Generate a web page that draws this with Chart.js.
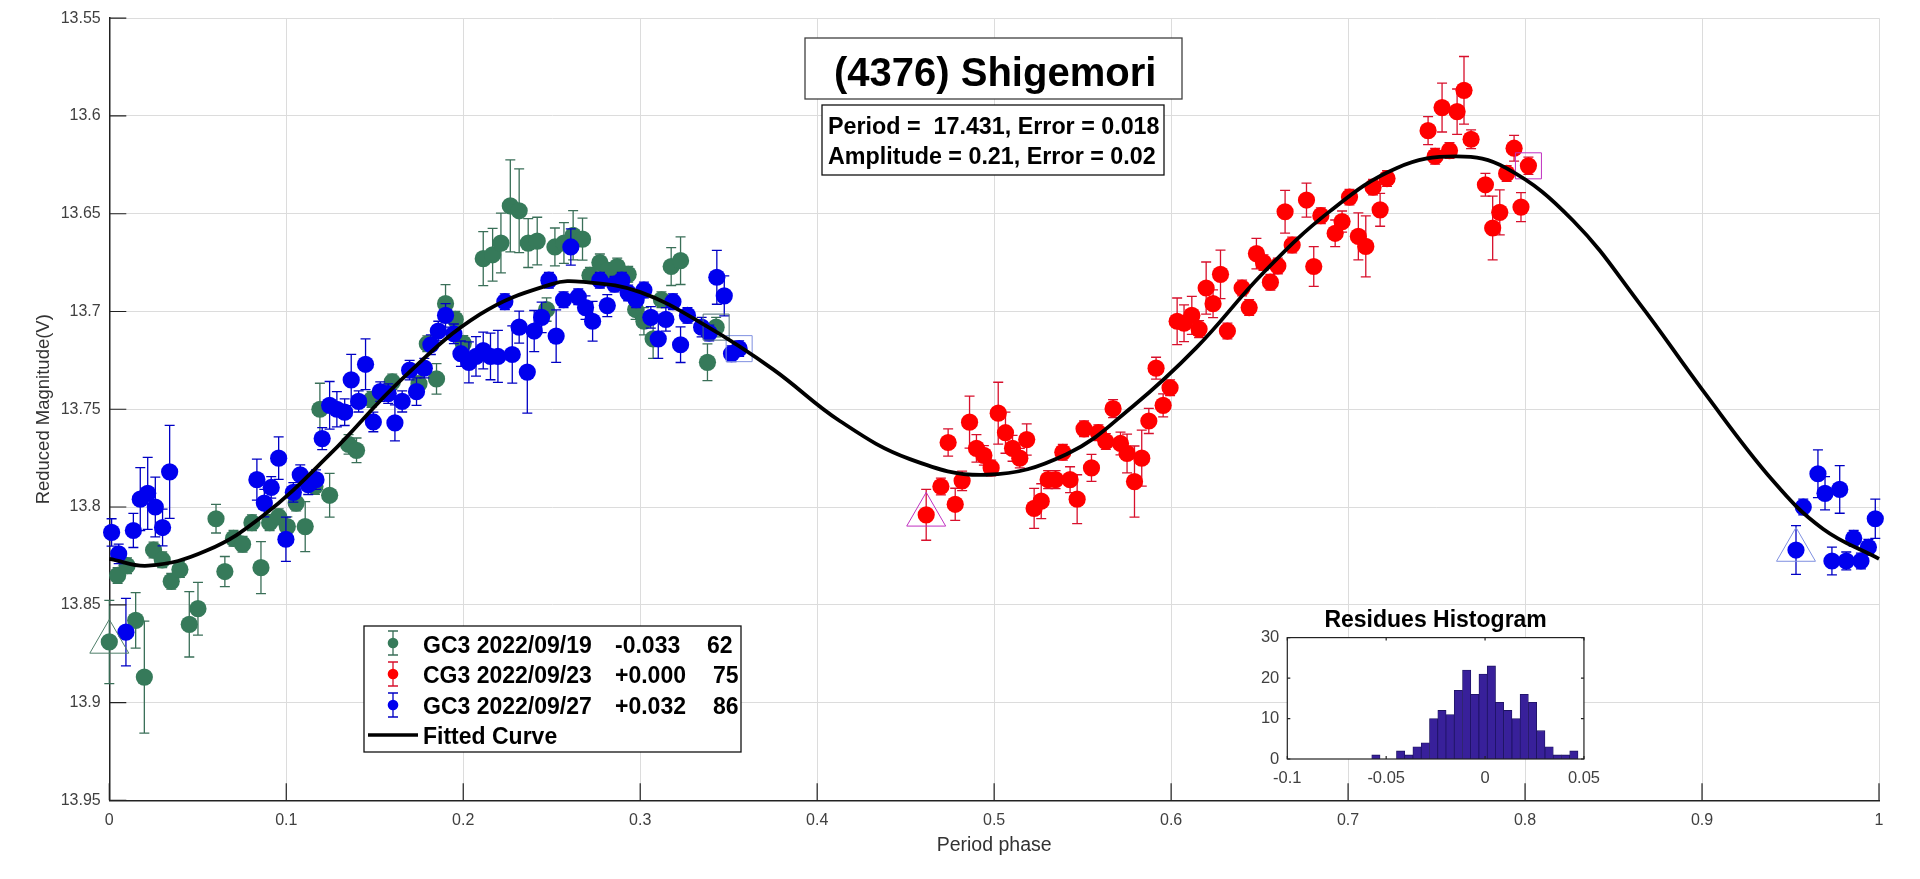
<!DOCTYPE html>
<html>
<head>
<meta charset="utf-8">
<title>(4376) Shigemori</title>
<script src="https://cdn.jsdelivr.net/npm/chart.js@4"></script>
<style>
  html, body { margin: 0; padding: 0; background: #fff; }
  #wrap { position: relative; width: 1920px; height: 879px; overflow: hidden; }
  #lightcurve { position: absolute; left: 0; top: 0; }
  #histogram { position: absolute; left: 1240px; top: 607px; }
</style>
</head>
<body>
<div id="wrap">
  <canvas id="lightcurve" width="1920" height="879"></canvas>
  <canvas id="histogram" width="370" height="190"></canvas>
</div>
<script>
// Session 2022/09/19
const greenPhase = [0, .0047, .01, .0149, .0198, .025, .0299, .035, .0399, .0452, .0501, .0603, .0653, .0702, .0753, .0806, .0857, .0906, .0957, .1006, .1056, .1107, .1162, .1245, .119, .1352, .1397, .1482, .1599, .175, .1849, .1797, .19, .1955, .2, .2113, .2166, .2213, .2266, .2316, .2367, .2418, .2518, .2569, .2621, .2674, .2716, .2772, .2819, .287, .2932, .2974, .3021, .3073, .312, .3175, .3228, .3429, .338, .2471];
const greenMag = [13.869, 13.835, 13.83, 13.858, 13.887, 13.822, 13.827, 13.838, 13.832, 13.86, 13.852, 13.806, 13.833, 13.816, 13.819, 13.808, 13.831, 13.808, 13.805, 13.81, 13.798, 13.81, 13.7895, 13.794, 13.75, 13.768, 13.771, 13.745, 13.736, 13.737, 13.7345, 13.7165, 13.696, 13.704, 13.7163, 13.673, 13.671, 13.665, 13.646, 13.6485, 13.665, 13.664, 13.667, 13.665, 13.661, 13.663, 13.6815, 13.675, 13.679, 13.677, 13.681, 13.699, 13.705, 13.714, 13.694, 13.677, 13.674, 13.708, 13.726, 13.699];
const greenErr = [.0213, .004, .004, .0142, .0286, .004, .004, .004, .004, .0167, .0135, .0073, .0077, .004, .004, .004, .0133, .004, .004, .005, .004, .0128, .004, .0112, .0133, .005, .0063, .004, .004, .004, .0078, .004, .0097, .004, .004, .0138, .0135, .0153, .0235, .0214, .0125, .0122, .0097, .0104, .0126, .0107, .004, .0044, .004, .0043, .004, .005, .007, .01, .004, .0097, .0122, .005, .0094, .006];

// Session 2022/09/23
const redPhase = [.4616, .4699, .474, .478, .4819, .4861, .49, .4942, .4983, .5023, .5064, .5104, .5145, .5184, .5226, .5266, .5305, .5347, .5388, .5429, .5469, .5508, .555, .5589, .5631, .5672, .5714, .5751, .5793, .5834, .5874, .5915, .5955, .5994, .6034, .6073, .6117, .6158, .6198, .6237, .6279, .6318, .6401, .6441, .6482, .6522, .6561, .6603, .6644, .6684, .6765, .6806, .6846, .6927, .6966, .7008, .7058, .71, .7141, .7181, .722, .7452, .7492, .7531, .7573, .7616, .7655, .7695, .7776, .7817, .7857, .7896, .7938, .7977, .8019];
const redMag = [13.804, 13.7895, 13.767, 13.7986, 13.7866, 13.7566, 13.77, 13.7736, 13.78, 13.752, 13.762, 13.77, 13.775, 13.7655, 13.8007, 13.797, 13.786, 13.786, 13.772, 13.786, 13.796, 13.76, 13.78, 13.762, 13.7665, 13.7497, 13.7675, 13.7726, 13.787, 13.775, 13.756, 13.729, 13.748, 13.739, 13.705, 13.706, 13.702, 13.709, 13.688, 13.696, 13.681, 13.71, 13.688, 13.698, 13.6704, 13.675, 13.685, 13.6767, 13.649, 13.666, 13.643, 13.677, 13.651, 13.66, 13.654, 13.6415, 13.6616, 13.6667, 13.6364, 13.648, 13.632, 13.6075, 13.6206, 13.5957, 13.6177, 13.5978, 13.5869, 13.6119, 13.6352, 13.6573, 13.6493, 13.6294, 13.6165, 13.6466, 13.6255];
const redErr = [.013, .0043, .007, .0082, .005, .0133, .007, .005, .004, .0158, .0105, .0066, .005, .008, .0102, .0089, .0046, .0046, .004, .0066, .0125, .004, .0069, .004, .004, .0046, .0058, .0099, .0182, .0143, .0064, .0056, .0059, .004, .0119, .0094, .0097, .0043, .0133, .0071, .0124, .004, .004, .004, .0078, .004, .004, .004, .0109, .004, .0087, .0102, .004, .0068, .0054, .004, .012, .0156, .004, .0084, .004, .0072, .004, .0125, .004, .0116, .0173, .0048, .0058, .0163, .0115, .004, .0066, .0074, .0044];

// Session 2022/09/27
const bluePhase = [.0013, .0053, .0094, .0136, .0175, .0217, .026, .0301, .0341, .0998, .0834, .0915, .0876, .0957, .104, .1079, .1124, .1168, .1203, .1245, .1286, .133, .1367, .1409, .1448, .1492, .1531, .1576, .1614, .1655, .1697, .1736, .178, .1817, .1859, .19, .1947, .1987, .2032, .2072, .2113, .2154, .2196, .2277, .2235, .2316, .2362, .2401, .2443, .2484, .2525, .2567, .2608, .265, .2691, .2731, .2772, .2814, .2855, .2896, .2932, .2977, .3021, .306, .3102, .3145, .3185, .3228, .3267, .3347, .339, .3433, .3475, .3516, .3559, .9531, .9572, .9655, .9695, .9778, .9734, .9815, .9857, .9898, .994, .9979];
const blueMag = [13.813, 13.824, 13.864, 13.812, 13.796, 13.793, 13.8, 13.8105, 13.782, 13.8165, 13.786, 13.79, 13.798, 13.775, 13.7925, 13.7835, 13.7886, 13.786, 13.765, 13.748, 13.75, 13.7515, 13.735, 13.746, 13.727, 13.7565, 13.741, 13.742, 13.757, 13.746, 13.73, 13.741, 13.729, 13.717, 13.71, 13.702, 13.7114, 13.7216, 13.726, 13.723, 13.72, 13.723, 13.723, 13.722, 13.695, 13.708, 13.731, 13.71, 13.703, 13.684, 13.7126, 13.694, 13.667, 13.6925, 13.698, 13.705, 13.684, 13.697, 13.686, 13.684, 13.6905, 13.694, 13.689, 13.703, 13.714, 13.704, 13.695, 13.717, 13.702, 13.708, 13.711, 13.6825, 13.692, 13.7216, 13.719, 13.822, 13.8, 13.783, 13.793, 13.791, 13.8276, 13.8276, 13.816, 13.8276, 13.8206, 13.806];
const blueErr = [.007, .005, .0173, .0087, .0161, .0184, .0153, .0094, .0238, .0113, .0105, .0055, .007, .0109, .005, .005, .005, .005, .0056, .0122, .009, .0068, .0131, .0054, .013, .005, .005, .005, .0092, .0054, .005, .007, .005, .005, .005, .006, .005, .0065, .0105, .0101, .0094, .0119, .0133, .0146, .004, .0082, .021, .0105, .0078, .004, .0134, .004, .0093, .004, .006, .0102, .004, .0056, .004, .004, .004, .004, .004, .0055, .01, .006, .004, .0091, .004, .005, .004, .0138, .0102, .004, .004, .0125, .004, .0122, .0085, .0122, .0071, .0046, .004, .004, .004, .01];

// Fitted curve
const curvePhase = [0, .022, .055, .087, .1247, .1652, .2094, .25, .2678, .3, .3375, .3751, .4128, .4524, .4957, .5409, .5786, .6143, .652, .6896, .7273, .7612, .7894, .8272, .8648, .9, .9401, .9684, 1];
const curveMag = [13.8265, 13.83, 13.8223, 13.8044, 13.773, 13.7347, 13.7015, 13.686, 13.6849, 13.6901, 13.7075, 13.7296, 13.756, 13.7755, 13.7835, 13.773, 13.7483, 13.7185, 13.6803, 13.6488, 13.6267, 13.6207, 13.6267, 13.6536, 13.6961, 13.7398, 13.7866, 13.8112, 13.8265];

// Residues histogram
const histCenters = [-.0552, -.051, -.0469, -.0427, -.0385, -.0344, -.0302, -.026, -.0218, -.0177, -.0135, -.0093, -.0052, -.001, .0032, .0073, .0115, .0157, .0198, .024, .0282, .0324, .0365, .0407, .0449];
const histCounts = [1, 0, 0, 2, 1, 3, 4, 10, 12, 11, 17, 22, 16, 21, 23, 14, 12, 10, 16, 14, 7, 3, 1, 1, 2];

const xTickLabels = ['0', '0.1', '0.2', '0.3', '0.4', '0.5', '0.6', '0.7', '0.8', '0.9', '1'];
const yTickLabels = ['13.55', '13.6', '13.65', '13.7', '13.75', '13.8', '13.85', '13.9', '13.95'];
const histXLabels = ['-0.1', '-0.05', '0', '0.05'];
const histYLabels = ['0', '10', '20', '30'];

const sessionNames = ['GC3 2022/09/19', 'CG3 2022/09/23', 'GC3 2022/09/27'];
const sessionOffsets = ['-0.033', '+0.000', '+0.032'];
const sessionCounts = ['62', '75', '86'];

const GREEN = '#367a5a', GREEN_BAR = '#3a6f58';
const RED = '#ff0000', RED_BAR = '#d8102c';
const BLUE = '#0000ee', BLUE_BAR = '#0000c4';
const FONT = '"Liberation Sans", Arial, sans-serif';

function toPoints(xs, ys) {
    return xs.map(function (x, i) { return { x: x, y: ys[i] }; });
}

function sessionSet(label, xs, ys, errs, color, barColor, order) {
    return {
        label: label,
        data: toPoints(xs, ys),
        errs: errs,
        barColor: barColor,
        backgroundColor: color,
        borderWidth: 0,
        pointRadius: 8.6,
        pointHoverRadius: 8.6,
        clip: false,
        order: order
    };
}

// triangle on the first point of a session, square on the last one
function boundMark(x, y, style, radius, color) {
    return {
        data: [{ x: x, y: y }],
        pointStyle: style,
        pointRadius: radius,
        backgroundColor: 'rgba(0,0,0,0)',
        borderColor: color,
        pointBorderWidth: 1,
        borderWidth: 1,
        clip: false,
        order: 1
    };
}

// error bars, drawn just under the markers of the same session
const errorBars = {
    id: 'errorBars',
    beforeDatasetDraw(chart, args) {
        const ds = chart.data.datasets[args.index];
        if (!ds.errs) return;
        const ctx = chart.ctx, xs = chart.scales.x, ys = chart.scales.y;
        ctx.save();
        ctx.strokeStyle = ds.barColor;
        ctx.lineWidth = 1.3;
        ds.data.forEach(function (p, i) {
            const px = xs.getPixelForValue(p.x);
            const top = ys.getPixelForValue(p.y - ds.errs[i]);
            const bot = ys.getPixelForValue(p.y + ds.errs[i]);
            ctx.beginPath();
            ctx.moveTo(px, top); ctx.lineTo(px, bot);
            ctx.moveTo(px - 5, top); ctx.lineTo(px + 5, top);
            ctx.moveTo(px - 5, bot); ctx.lineTo(px + 5, bot);
            ctx.stroke();
        });
        ctx.restore();
    }
};

// matlab style ticks, pointing inside the axes
const innerTicks = {
    id: 'innerTicks',
    afterDatasetsDraw(chart, args, opts) {
        const ctx = chart.ctx, xs = chart.scales.x, ys = chart.scales.y, a = chart.chartArea;
        ctx.save();
        ctx.strokeStyle = opts.color;
        ctx.lineWidth = 1.2;
        ctx.beginPath();
        xs.ticks.forEach(function (t) {
            const px = xs.getPixelForValue(t.value);
            ctx.moveTo(px, a.bottom); ctx.lineTo(px, a.bottom - opts.length);
        });
        ys.ticks.forEach(function (t) {
            const py = ys.getPixelForValue(t.value);
            ctx.moveTo(a.left, py); ctx.lineTo(a.left + opts.length, py);
        });
        ctx.stroke();
        ctx.restore();
    }
};

function box(ctx, x, y, w, h, color) {
    ctx.fillStyle = '#fff';
    ctx.fillRect(x, y, w, h);
    ctx.strokeStyle = color;
    ctx.lineWidth = 1.3;
    ctx.strokeRect(x, y, w, h);
}

// title box, period box and legend
const annotations = {
    id: 'annotations',
    afterDraw(chart) {
        const ctx = chart.ctx;
        ctx.save();
        box(ctx, 805, 38, 377, 61, '#404040');
        ctx.fillStyle = '#000';
        ctx.textBaseline = 'alphabetic';
        ctx.font = 'bold 40px ' + FONT;
        ctx.fillText('(4376) Shigemori', 834, 86);

        box(ctx, 822, 105, 342, 70, '#111');
        ctx.fillStyle = '#000';
        ctx.font = 'bold 23.3px ' + FONT;
        ctx.fillText('Period =  17.431, Error = 0.018', 828, 134);
        ctx.fillText('Amplitude = 0.21, Error = 0.02', 828, 164);

        box(ctx, 364, 626, 377, 126, '#111');
        const colors = [GREEN, RED, BLUE], bars = [GREEN_BAR, RED_BAR, BLUE_BAR];
        const rowY = [643, 674, 705], baseY = [653, 683, 714], countX = [707, 713, 713];
        ctx.font = 'bold 23px ' + FONT;
        sessionNames.forEach(function (name, i) {
            ctx.strokeStyle = bars[i];
            ctx.lineWidth = 1.3;
            ctx.beginPath();
            ctx.moveTo(393, rowY[i] - 12); ctx.lineTo(393, rowY[i] + 12);
            ctx.moveTo(388, rowY[i] - 12); ctx.lineTo(398, rowY[i] - 12);
            ctx.moveTo(388, rowY[i] + 12); ctx.lineTo(398, rowY[i] + 12);
            ctx.stroke();
            ctx.fillStyle = colors[i];
            ctx.beginPath();
            ctx.arc(393, rowY[i], 5.3, 0, Math.PI * 2);
            ctx.fill();
            ctx.fillStyle = '#000';
            ctx.fillText(name, 423, baseY[i]);
            ctx.fillText(sessionOffsets[i], 615, baseY[i]);
            ctx.fillText(sessionCounts[i], countX[i], baseY[i]);
        });
        ctx.strokeStyle = '#000';
        ctx.lineWidth = 3.6;
        ctx.beginPath();
        ctx.moveTo(368, 735); ctx.lineTo(418, 735);
        ctx.stroke();
        ctx.fillStyle = '#000';
        ctx.fillText('Fitted Curve', 423, 744);
        ctx.restore();
    }
};

Chart.defaults.font.family = FONT;

const lastGreen = greenPhase.indexOf(.3429);
const lastBlue = bluePhase.indexOf(.3559);

new Chart(document.getElementById('lightcurve'), {
    type: 'scatter',
    data: {
        datasets: [
            {
                label: 'Fitted Curve',
                data: toPoints(curvePhase, curveMag),
                showLine: true,
                borderColor: '#000',
                borderWidth: 3.8,
                pointRadius: 0,
                tension: 0.4,
                clip: false,
                order: 0
            },
            boundMark(greenPhase[0], greenMag[0], 'triangle', 22.5, '#4f7f6a'),
            boundMark(greenPhase[lastGreen], greenMag[lastGreen], 'rect', 18.4, '#4f6f78'),
            boundMark(redPhase[0], redMag[0], 'triangle', 22.5, '#c030c0'),
            boundMark(redPhase[redPhase.length - 1], redMag[redMag.length - 1], 'rect', 18.4, '#c030c0'),
            boundMark(bluePhase[75], blueMag[75], 'triangle', 22.5, '#7f90e0'),
            boundMark(bluePhase[lastBlue], blueMag[lastBlue], 'rect', 18.4, '#7f90e0'),
            sessionSet(sessionNames[2], bluePhase, blueMag, blueErr, BLUE, BLUE_BAR, 2),
            sessionSet(sessionNames[1], redPhase, redMag, redErr, RED, RED_BAR, 3),
            sessionSet(sessionNames[0], greenPhase, greenMag, greenErr, GREEN, GREEN_BAR, 4)
        ]
    },
    options: {
        responsive: false,
        animation: false,
        events: [],
        layout: { autoPadding: false, padding: { left: 0, right: 41, top: 16.3, bottom: 0 } },
        plugins: {
            legend: { display: false },
            tooltip: { enabled: false },
            innerTicks: { color: '#222', length: 17 }
        },
        scales: {
            x: {
                type: 'linear',
                min: 0,
                max: 1,
                afterFit(scale) { scale.height = 78.7; },
                grid: { color: '#dcdcdc', drawTicks: false },
                border: { color: '#222', width: 1.5 },
                ticks: {
                    stepSize: 0.1,
                    padding: 11,
                    maxRotation: 0,
                    autoSkip: false,
                    color: '#404040',
                    font: { size: 16 },
                    callback: function (v) { return xTickLabels[Math.round(v * 10)]; }
                },
                title: { display: true, text: 'Period phase', color: '#333', font: { size: 19.5 }, padding: { top: 0, bottom: 22 } }
            },
            y: {
                type: 'linear',
                reverse: true,
                min: 13.55,
                max: 13.95,
                afterFit(scale) { scale.width = 109.3; },
                grid: { color: '#dcdcdc', drawTicks: false },
                border: { color: '#222', width: 1.5 },
                ticks: {
                    stepSize: 0.05,
                    padding: 8.6,
                    autoSkip: false,
                    color: '#404040',
                    font: { size: 16 },
                    callback: function (v) { return yTickLabels[Math.round((v - 13.55) / 0.05)]; }
                },
                title: { display: true, text: 'Reduced Magnitude(V)', color: '#333', font: { size: 18.5 }, padding: { top: 33, bottom: 0 } }
            }
        }
    },
    plugins: [errorBars, innerTicks, annotations]
});

// white face and black frame of the small axes
const histFrame = {
    id: 'histFrame',
    beforeDatasetsDraw(chart) {
        const a = chart.chartArea, ctx = chart.ctx;
        ctx.save();
        ctx.fillStyle = '#fff';
        ctx.fillRect(a.left, a.top, a.width, a.height);
        ctx.restore();
    },
    afterDatasetsDraw(chart) {
        const a = chart.chartArea, ctx = chart.ctx;
        ctx.save();
        ctx.strokeStyle = '#222';
        ctx.lineWidth = 1.2;
        ctx.strokeRect(a.left, a.top, a.width, a.height);
        ctx.beginPath();
        chart.scales.x.ticks.forEach(function (t) {
            const px = chart.scales.x.getPixelForValue(t.value);
            ctx.moveTo(px, a.top); ctx.lineTo(px, a.top + 3);
            ctx.moveTo(px, a.bottom); ctx.lineTo(px, a.bottom - 3);
        });
        chart.scales.y.ticks.forEach(function (t) {
            const py = chart.scales.y.getPixelForValue(t.value);
            ctx.moveTo(a.left, py); ctx.lineTo(a.left + 3, py);
            ctx.moveTo(a.right, py); ctx.lineTo(a.right - 3, py);
        });
        ctx.stroke();
        ctx.restore();
    }
};

new Chart(document.getElementById('histogram'), {
    type: 'bar',
    data: {
        datasets: [{
            data: toPoints(histCenters, histCounts),
            backgroundColor: '#38209a',
            borderColor: '#1c1260',
            borderWidth: 0.8,
            barThickness: 8.3
        }]
    },
    options: {
        responsive: false,
        animation: false,
        events: [],
        layout: { padding: { left: 0, right: 25.7, top: 0, bottom: 0 } },
        plugins: {
            legend: { display: false },
            tooltip: { enabled: false },
            title: {
                display: true,
                text: 'Residues Histogram',
                color: '#000',
                fullSize: false,
                font: { size: 23, weight: 'bold' },
                padding: { top: 0, bottom: 3 }
            }
        },
        scales: {
            x: {
                type: 'linear',
                offset: false,
                min: -0.1,
                max: 0.05,
                afterFit(scale) { scale.height = 38; },
                grid: { display: false, drawTicks: false },
                border: { display: false },
                ticks: {
                    stepSize: 0.05,
                    padding: 10,
                    maxRotation: 0,
                    autoSkip: false,
                    color: '#404040',
                    font: { size: 16.5 },
                    callback: function (v) { return histXLabels[Math.round((v + 0.1) / 0.05)]; }
                }
            },
            y: {
                type: 'linear',
                min: 0,
                max: 30,
                afterFit(scale) { scale.width = 47.3; },
                grid: { display: false, drawTicks: false },
                border: { display: false },
                ticks: {
                    stepSize: 10,
                    padding: 8,
                    autoSkip: false,
                    color: '#404040',
                    font: { size: 16.5 },
                    callback: function (v) { return histYLabels[Math.round(v / 10)]; }
                }
            }
        }
    },
    plugins: [histFrame]
});
</script>
</body>
</html>
